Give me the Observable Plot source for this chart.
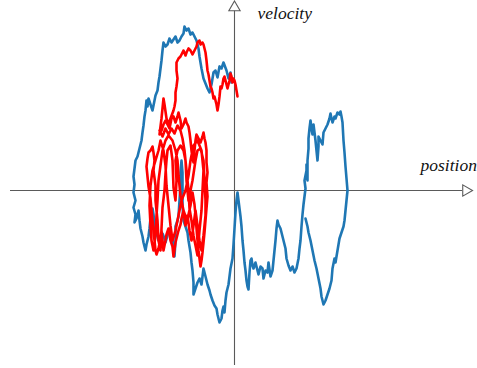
<!DOCTYPE html>
<html><head><meta charset="utf-8">
<script src="https://cdn.jsdelivr.net/npm/d3@7"></script>
<script src="https://cdn.jsdelivr.net/npm/@observablehq/plot@0.6"></script>
<style>body{margin:0;background:#fff}</style>
</head><body><div id="chart"></div>
<script>
// phase-space trajectories: [position, velocity]
const bluePath = [
[-3,108],[-4,118],[-6,112],[-8,120],[-11,128],[-13,122],[-15,124],[-17,113],[-19,120],[-21,118],[-23,106],[-25,98],[-27,102],[-29,107],[-31,112],[-33,122],[-35,134],[-36,142],[-38,150],[-40,154],[-42,158],[-44,156],[-46,162],[-48,160],[-50,164],[-51,157],[-53,154],[-55,150],[-57,148],[-59,154],[-61,151],[-63,148],[-65,152],[-67,146],[-69,144],[-71,148],[-72,140],[-73,130],[-74,122],[-75,114],[-76,108],[-77,100],[-79,95],[-81,85],[-82,80],[-84,86],[-86,92],[-87,84],[-88,90],[-89,80],[-90,74],[-91,65],[-92,58],[-93,50],[-95,42],[-97,34],[-99,30],[-100,22],[-101,14],[-100,6],[-101,-2],[-99,-10],[-101,-17],[-99,-24],[-100,-32],[-98,-28],[-96,-20],[-95,-30],[-94,-38],[-92,-46],[-91,-52],[-89,-60],[-88,-54],[-86,-46],[-85,-38],[-84,-28],[-82,-18],[-81,-24],[-80,-34],[-79,-40],[-77,-46],[-76,-50],[-74,-46],[-72,-43],[-70,-48],[-69,-52],[-67,-45],[-66,-40],[-64,-44],[-62,-48],[-61,-60],[-60,-66],[-59,-50],[-59,-36],[-57,-30],[-56,-26],[-55,-10],[-54,5],[-54,18],[-53,30],[-52,18],[-52,0],[-52,-15],[-51,-30],[-49,-36],[-47,-42],[-46,-50],[-44,-62],[-43,-72],[-42,-80],[-41,-92],[-41,-104],[-39,-98],[-37,-92],[-35,-88],[-33,-94],[-32,-86],[-31,-78],[-29,-86],[-27,-94],[-25,-100],[-24,-104],[-22,-110],[-20,-115],[-18,-118],[-17,-124],[-16,-128],[-15,-132],[-13,-128],[-12,-120],[-11,-116],[-10,-122],[-9,-110],[-8,-102],[-6,-94],[-5,-86],[-4,-78],[-2,-68],[-1,-54],[0,-38],[1,-22],[2,-10],[3,-2],[4,-10],[5,-18],[6,-26],[7,-36],[8,-50],[9,-60],[10,-72],[11,-80],[12,-90],[13,-96],[14,-99],[15,-82],[16,-70],[17,-68],[18,-75],[19,-78],[21,-72],[23,-80],[24,-84],[26,-76],[28,-78],[29,-88],[31,-80],[33,-82],[34,-72],[36,-86],[38,-80],[39,-70],[41,-50],[42,-38],[43,-30],[44,-34],[46,-38],[48,-46],[50,-54],[51,-58],[52,-68],[54,-75],[56,-80],[58,-76],[60,-82],[62,-78],[64,-68],[65,-58],[66,-50],[67,-36],[68,-24],[69,-14],[70,-6],[71,2],[70,10],[72,20],[72,26],[73,10],[73,30],[74,42],[74,52],[75,62],[76,70],[77,62],[78,56],[79,66],[80,58],[81,50],[82,40],[83,30],[84,44],[84,54],[86,50],[88,46],[89,58],[91,62],[93,66],[95,72],[96,77],[97,72],[98,68],[100,74],[101,72],[103,78],[105,76],[106,79],[107,74],[108,68],[109,50],[110,38],[111,24],[112,12],[113,0],[112,-10],[111,-20],[110,-30],[109,-36],[107,-42],[105,-48],[103,-60],[101,-72],[100,-68],[98,-78],[97,-90],[95,-98],[93,-104],[91,-110],[89,-114],[87,-106],[86,-98],[84,-88],[82,-78],[80,-70],[78,-60],[76,-50],[74,-42],[73,-36],[71,-28]
];
const redPath = [
[3,94],[2,100],[1,106],[0,110],[-1,112],[-2,108],[-3,114],[-4,117],[-5,110],[-6,106],[-7,102],[-8,106],[-9,110],[-10,114],[-11,112],[-12,106],[-13,102],[-14,104],[-15,94],[-16,86],[-17,80],[-18,86],[-19,90],[-20,94],[-21,92],[-22,98],[-23,102],[-24,104],[-25,110],[-26,116],[-27,120],[-28,130],[-29,138],[-30,142],[-31,146],[-32,148],[-34,146],[-35,150],[-37,148],[-38,144],[-40,140],[-42,136],[-44,140],[-46,142],[-48,138],[-49,135],[-51,140],[-52,138],[-54,134],[-56,132],[-58,128],[-58,120],[-57,112],[-58,104],[-59,98],[-59,90],[-60,84],[-61,80],[-64,72],[-66,66],[-68,72],[-70,86],[-71,92],[-72,82],[-73,72],[-74,64],[-75,56],[-73,60],[-71,66],[-69,70],[-67,66],[-65,62],[-63,72],[-61,74],[-59,68],[-57,74],[-56,78],[-54,70],[-53,62],[-51,66],[-49,72],[-48,68],[-46,64],[-45,58],[-44,50],[-43,40],[-42,32],[-41,28],[-40,40],[-39,50],[-38,56],[-36,52],[-34,48],[-32,54],[-31,58],[-30,52],[-29,48],[-28,40],[-28,28],[-27,18],[-28,8],[-27,-6],[-28,-18],[-29,-30],[-30,-42],[-31,-52],[-32,-62],[-33,-70],[-34,-76],[-35,-68],[-36,-60],[-37,-50],[-38,-38],[-39,-25],[-40,-14],[-42,-2],[-43,-8],[-44,-15],[-46,-24],[-47,-32],[-49,-26],[-51,-20],[-53,-28],[-54,-34],[-56,-40],[-57,-44],[-59,-52],[-61,-66],[-62,-56],[-64,-50],[-66,-38],[-68,-44],[-69,-50],[-71,-60],[-72,-50],[-73,-40],[-74,-48],[-76,-58],[-78,-64],[-79,-60],[-80,-50],[-81,-40],[-82,-30],[-83,-20],[-84,-8],[-86,4],[-87,14],[-88,24],[-87,32],[-86,38],[-84,40],[-82,44],[-81,38],[-80,30],[-81,20],[-79,5],[-79,-10],[-77,-30],[-76,-50],[-74,-60],[-73,-38],[-72,-17],[-70,0],[-69,17],[-68,30],[-67,40],[-64,45],[-62,30],[-61,3],[-59,-10],[-58,10],[-59,30],[-57,40],[-54,45],[-51,40],[-49,30],[-48,10],[-46,-10],[-44,0],[-42,10],[-39,30],[-37,40],[-34,42],[-31,30],[-30,10],[-29,-10],[-29,-25],[-31,-45],[-33,-60],[-35,-50],[-37,-35],[-39,-20],[-41,-35],[-43,-50],[-45,-40],[-47,-25],[-49,-35],[-51,-20],
[-54,-5],[-56,15],[-57,30],[-59,40],[-62,50],[-66,55],[-69,50],[-72,40],[-74,25],[-76,10],[-77,-10],[-78,-25],[-79,-45],[-81,-60],[-83,-50],[-84,-35],[-85,-15],[-84,5],[-82,20],[-79,30],[-76,40],[-74,50],[-71,40],[-69,25],[-68,5],[-66,-15],[-64,-35],[-62,-50],[-59,-40],[-56,-25],[-53,-10],[-49,0],[-46,15],[-44,30],[-41,45],[-37,50],[-33,40],[-31,20],[-32,0],[-33,-20],[-35,-40],[-37,-65],[-39,-55],[-41,-45],[-43,-30],[-45,-18],
[-46,0],[-48,20],[-50,40],[-52,52],[-54,60],[-57,65],[-60,57],[-63,62],[-66,56],[-69,62],[-72,54],[-75,60]
];
const xLabel = "position";
const yLabel = "velocity";

const axisColor = "#5a5a5a";
const labelFont = "Liberation Serif, DejaVu Serif, serif";
const chart = Plot.plot({
  width: 477, height: 368, margin: 0,
  x: {domain: [-234, 243], axis: null},
  y: {domain: [-178, 190], axis: null},
  marks: [
    Plot.ruleY([0], {x1: -224, x2: 228, stroke: axisColor, strokeWidth: 1.1}),
    Plot.ruleX([0], {y1: -175, y2: 180, stroke: axisColor, strokeWidth: 1.1}),
    Plot.line(bluePath, {x: d => d[0], y: d => d[1], stroke: "#1f77b4", strokeWidth: 2.6, strokeLinejoin: "round"}),
    Plot.line(redPath, {x: d => d[0], y: d => d[1], stroke: "#ff0000", strokeWidth: 2.6, strokeLinejoin: "round"}),
    Plot.dot([0], {x: 231.5, y: 0, symbol: "triangle", r: 4.2, rotate: 90, fill: "white", stroke: axisColor, strokeWidth: 1.1}),
    Plot.dot([0], {x: 0, y: 183, symbol: "triangle", r: 4.2, fill: "white", stroke: axisColor, strokeWidth: 1.1}),
    Plot.text([yLabel], {x: 23, y: 177, text: d => d, textAnchor: "start", fontStyle: "italic", fontFamily: labelFont, fontSize: 17.5, fill: "#111"}),
    Plot.text([xLabel], {x: 186, y: 25, text: d => d, textAnchor: "start", fontStyle: "italic", fontFamily: labelFont, fontSize: 17.5, fill: "#111"})
  ]
});
document.getElementById("chart").appendChild(chart);
</script>
</body></html>
